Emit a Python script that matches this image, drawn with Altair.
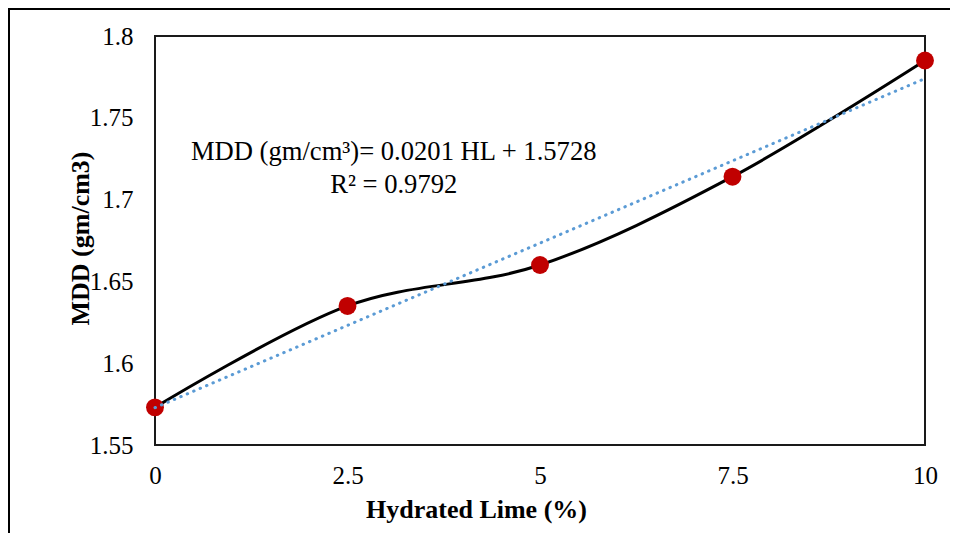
import altair as alt
import pandas as pd

hl = [0, 2.5, 5, 7.5, 10]
mdd = [1.573, 1.635, 1.660, 1.714, 1.785]
x_ticks = [0, 2.5, 5, 7.5, 10]
y_ticks = [1.55, 1.6, 1.65, 1.7, 1.75, 1.8]
ann_text = ["MDD (gm/cm³)= 0.0201 HL + 1.5728", "R² = 0.9792"]
ann_x = [3.1, 3.1]
ann_y = [1.724, 1.704]

FONT = "'Times New Roman', 'Liberation Serif', serif"

df = pd.DataFrame({"HL": hl, "MDD": mdd})
ann = pd.DataFrame({"t": ann_text, "x": ann_x, "y": ann_y})

xs = alt.Scale(domain=[0, 10], nice=False, zero=False)
ys = alt.Scale(domain=[1.55, 1.8], nice=False, zero=False)

xax = alt.Axis(values=x_ticks, format="~g", title="Hydrated Lime (%)", grid=False,
               ticks=False, domain=False, labelPadding=18, labelFontSize=25,
               labelFlush=False,
               labelFont=FONT, labelColor="black", titleFont=FONT, titleFontSize=26,
               titleFontWeight="bold", titleColor="black", titleX=321, titleY=72,
               titleBaseline="alphabetic", titleAnchor="middle")
yax = alt.Axis(values=y_ticks, format="~g", title="MDD (gm/cm3)", grid=False,
               ticks=False, domain=False, labelPadding=22, labelFontSize=25,
               labelFlush=False,
               labelFont=FONT, labelColor="black", titleFont=FONT, titleFontSize=26,
               titleFontWeight="bold", titleColor="black", titleX=-67, titleY=202,
               titleBaseline="alphabetic", titleAngle=-90, titleAnchor="middle")

base = alt.Chart(df)

line = base.mark_line(color="black", strokeWidth=3, interpolate="cardinal").encode(
    x=alt.X("HL:Q", scale=xs, axis=xax),
    y=alt.Y("MDD:Q", scale=ys, axis=yax),
)
pts = base.mark_point(filled=True, shape="circle", size=320, color="#C00000", opacity=1).encode(
    x=alt.X("HL:Q", scale=xs),
    y=alt.Y("MDD:Q", scale=ys),
)
trend = base.transform_regression("HL", "MDD").mark_line(
    color="#5B9BD5", strokeWidth=3, strokeDash=[0.5, 6.5], strokeCap="round"
).encode(
    x=alt.X("HL:Q", scale=xs),
    y=alt.Y("MDD:Q", scale=ys),
)
text = alt.Chart(ann).mark_text(font=FONT, fontSize=26.6, color="black",
                                align="center", baseline="alphabetic").encode(
    x=alt.X("x:Q", scale=xs),
    y=alt.Y("y:Q", scale=ys),
    text="t:N",
)
one = alt.Chart(pd.DataFrame({"a": [0]}))
top_rule = one.mark_rule(color="black", strokeWidth=2).encode(
    x=alt.value(-147), x2=alt.value(800), y=alt.value(-27)
)
left_rule = one.mark_rule(color="black", strokeWidth=2).encode(
    x=alt.value(-146), y=alt.value(-28), y2=alt.value(600)
)

chart = alt.layer(top_rule, left_rule, line, pts, trend, text).properties(
    width=770, height=409,
    autosize=alt.AutoSizeParams(type="none"),
    padding={"left": 147, "top": 28, "right": 25, "bottom": 88},
).configure(
    background="white", font=FONT
).configure_view(stroke="#1a1a1a", strokeWidth=2)

chart.save("out.html", embed_options={"renderer": "svg", "actions": False})
